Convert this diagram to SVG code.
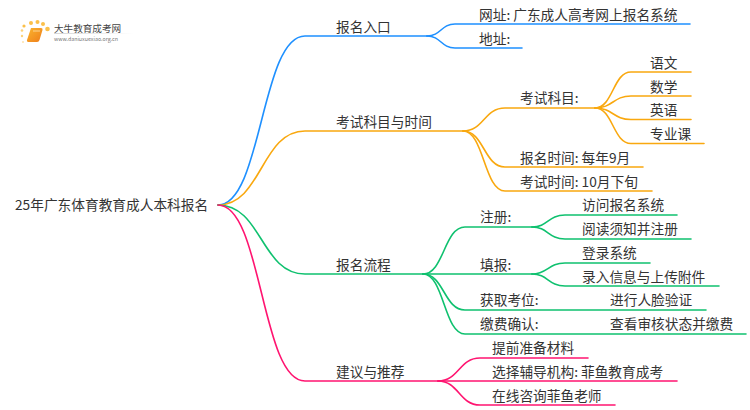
<svg xmlns="http://www.w3.org/2000/svg" width="750" height="410" viewBox="0 0 750 410">
<defs>
<linearGradient id="rule" x1="0" x2="1" y1="0" y2="0"><stop offset="0" stop-color="#ccc"/><stop offset="1" stop-color="#fff"/></linearGradient>
<linearGradient id="book" x1="0" x2="1" y1="0" y2="1"><stop offset="0" stop-color="#fbb52e"/><stop offset="1" stop-color="#ee7d1a"/></linearGradient>
</defs>
<style>
text{font-family:"Noto Sans CJK SC","Noto Sans",sans-serif;font-size:13.7px;fill:#333}
#connectors path{fill:none;stroke-width:1.6;stroke-linecap:round}
.b path{stroke:#1e90ff}.o path{stroke:#f9a80f}.g path{stroke:#0fc16f}.p path{stroke:#ff1470}
</style>
<rect width="750" height="410" fill="#fff"/>
<g id="logo">
<circle cx="24" cy="26" r="1.600" fill="#fbc04a"/><circle cx="31" cy="23" r="2" fill="#fbc04a"/><circle cx="37.500" cy="22" r="2" fill="#fbc04a"/><circle cx="43" cy="24" r="2" fill="#fbc04a"/><circle cx="47.500" cy="29" r="2.300" fill="#fbc04a"/><circle cx="22" cy="30.500" r="1.300" fill="#fcd27a"/><circle cx="22" cy="36" r="1.200" fill="#fcd27a"/><circle cx="23" cy="42" r="1" fill="#fde2ad"/>
<path d="M31 28H41Q43 28 42.500 30L39.500 40Q39 42 37 42H29Q26.500 42 27 40Z" fill="url(#book)"/><path d="M33 31H40" stroke="#fde2ad" stroke-width="0.800"/>
<text x="54" y="32" style="font-size:9.6px;fill:#444">大牛教育成考网</text>
<rect x="54" y="33" width="80" height="0.800" fill="url(#rule)"/>
<text x="54" y="41" style="font-size:5.3px;fill:#777">www.daniuxuexiao.org.cn</text>
</g>
<g id="connectors">
<g class="b">
<path d="M218 205C262 205 261 36 305 36H427"/>
<path d="M427 36C441 36 441 24 455 24H690"/>
<path d="M427 36C441 36 441 48 455 48H522"/>
</g>
<g class="o">
<path d="M218 205C262 205 261 131 305 131H463"/>
<path d="M463 131C484 131 484 108 505 108H595"/>
<path d="M463 131C484 131 484 167 505 167H643"/>
<path d="M463 131C484 131 484 191 505 191H652"/>
<path d="M595 108C613 108 613 72 631 72H691"/>
<path d="M595 108C613 108 613 96 631 96H691"/>
<path d="M595 108C613 108 613 119.500 631 119.500H691"/>
<path d="M595 108C613 108 613 143.500 631 143.500H704"/>
</g>
<g class="g">
<path d="M218 205C262 205 261 274 305 274H423"/>
<path d="M423 274C444 274 444 227 465 227H532"/>
<path d="M423 274H532"/>
<path d="M423 274C444 274 444 310 465 310H706"/>
<path d="M423 274C444 274 444 334 465 334H746"/>
<path d="M532 227C548 227 548 215 565 215H677"/>
<path d="M532 227C548 227 548 239 565 239H691"/>
<path d="M532 274C548 274 548 263 565 263H650"/>
<path d="M532 274C548 274 548 286 565 286H719"/>
</g>
<g class="p">
<path d="M218 205C262 205 261 381 305 381H438"/>
<path d="M438 381C459 381 459 358 480 358H588"/>
<path d="M438 381H677"/>
<path d="M438 381C459 381 459 405 480 405H615"/>
</g>
</g>
<g id="root"><text x="15" y="210">25年广东体育教育成人本科报名</text></g>
<g id="n1"><text x="336" y="32">报名入口</text></g>
<g id="n1-1"><text x="479" y="20">网址: 广东成人高考网上报名系统</text></g>
<g id="n1-2"><text x="479" y="44">地址:</text></g>
<g id="n2"><text x="336" y="127">考试科目与时间</text></g>
<g id="n2-1"><text x="520" y="103">考试科目:</text></g>
<g id="n2-1-1"><text x="650" y="68">语文</text></g>
<g id="n2-1-2"><text x="650" y="92">数学</text></g>
<g id="n2-1-3"><text x="650" y="115">英语</text></g>
<g id="n2-1-4"><text x="650" y="139">专业课</text></g>
<g id="n2-2"><text x="520" y="163">报名时间: 每年9月</text></g>
<g id="n2-3"><text x="520" y="187">考试时间: 10月下旬</text></g>
<g id="n3"><text x="336" y="270">报名流程</text></g>
<g id="n3-1"><text x="480" y="222">注册:</text></g>
<g id="n3-1-1"><text x="582" y="210">访问报名系统</text></g>
<g id="n3-1-2"><text x="582" y="234">阅读须知并注册</text></g>
<g id="n3-2"><text x="480" y="270">填报:</text></g>
<g id="n3-2-1"><text x="582" y="258">登录系统</text></g>
<g id="n3-2-2"><text x="582" y="282">录入信息与上传附件</text></g>
<g id="n3-3"><text x="480" y="305">获取考位:</text></g>
<g id="n3-3-1"><text x="610" y="305">进行人脸验证</text></g>
<g id="n3-4"><text x="480" y="329">缴费确认:</text></g>
<g id="n3-4-1"><text x="610" y="329">查看审核状态并缴费</text></g>
<g id="n4"><text x="336" y="377">建议与推荐</text></g>
<g id="n4-1"><text x="492" y="353">提前准备材料</text></g>
<g id="n4-2"><text x="492" y="377">选择辅导机构: 菲鱼教育成考</text></g>
<g id="n4-3"><text x="492" y="401">在线咨询菲鱼老师</text></g>
</svg>
